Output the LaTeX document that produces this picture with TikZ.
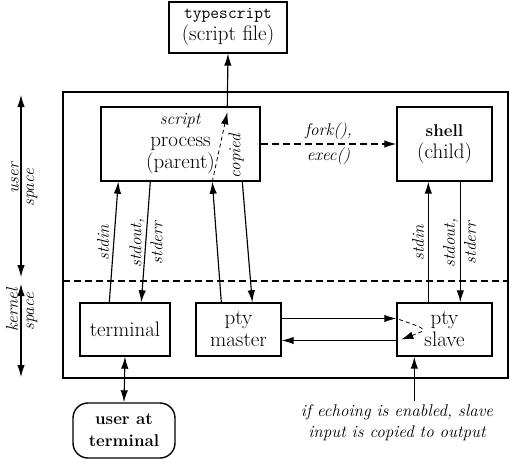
\documentclass[tikz,border=0pt]{standalone}
\usepackage{fontspec}
\usetikzlibrary{arrows.meta}
\newcommand{\smallsz}{\fontsize{17}{22}\selectfont}
\begin{document}
\begin{tikzpicture}[x=1pt,y=-1pt,
    font=\fontsize{17}{21}\selectfont,
    >={Latex[length=12pt,width=7.5pt]},
    line width=1.15pt,
    box/.style={draw, line width=1.4pt, align=center, inner sep=0pt, font=\fontsize{21}{22}\selectfont},
    lbl/.style={rotate=90, font=\fontsize{17}{21}\selectfont\itshape, align=center},
    dashline/.style={dash pattern=on 7pt off 4pt},
    fineline/.style={dash pattern=on 4pt off 3pt, line width=0.8pt}]
    \useasboundingbox (0,0) rectangle (510,460);

    % Caixas
    \node[box, minimum width=118pt, minimum height=51pt] (file) at (228,27.5) {{\smallsz\texttt{typescript}}\\(script file)};
    \node[box, minimum width=159pt, minimum height=74pt] (script) at (180.5,144) {{\smallsz\textit{script}}\\process\\(parent)};
    \node[box, minimum width=95pt, minimum height=74pt] (shell) at (444.5,144) {{\smallsz\textbf{shell}}\\(child)};
    \node[box, minimum width=90pt, minimum height=53pt] (term) at (125,329.5) {terminal};
    \node[box, minimum width=85pt, minimum height=53pt] (master) at (238.5,329.5) {pty\\master};
    \node[box, minimum width=95pt, minimum height=53pt] (slave) at (444.5,329.5) {pty\\slave};
    \node[box, rounded corners=15pt, minimum width=102pt, minimum height=55pt, font=\fontsize{17}{22}\selectfont\bfseries] (user) at (124,430.5) {user at\\terminal};
    \node[font=\fontsize{17}{21}\selectfont\itshape, align=center] (note) at (397,423) {if echoing is enabled, slave\\input is copied to output};

    % Kernel e espaço de usuário
    \draw[line width=2.4pt] (63,92) rectangle (508,378);
    \draw[dashline] (63,281) -- (508,281);
    \draw[<->] (21,95) -- (21,277);
    \draw[<->] (21,284) -- (21,377);
    \node[lbl] (us1) at (15,178) {user};
    \node[lbl] (us2) at (32,188) {space};
    \node[lbl] (ks1) at (12,310) {kernel};
    \node[lbl] (ks2) at (32,312) {space};

    % Fluxos
    \draw[->] ([xshift=30pt]term.north west) -- ([xshift=18pt]script.south west);
    \draw[->] ([xshift=50pt]script.south west) -- ([xshift=62pt]term.north west);
    \draw[->] ([xshift=26pt]master.north west) -- ([xshift=112pt]script.south west);
    \draw[->] ([xshift=142pt]script.south west) -- ([xshift=57pt]master.north west);
    \draw[->] ([xshift=32pt]slave.north west) -- ([xshift=32pt]shell.south west);
    \draw[->] ([xshift=64pt]shell.south west) -- ([xshift=64pt]slave.north west);
    \draw[->, fineline] ([xshift=112pt]script.south west) -- ([xshift=127pt,yshift=-6pt]script.north west);
    \draw[->] ([xshift=127pt]script.north west) -- (file.south);
    \draw[->, dashline] (script.east) -- (shell.west)
        node[midway, above, font=\fontsize{17}{21}\selectfont\itshape] (fork) {fork(),}
        node[midway, below, font=\fontsize{17}{21}\selectfont\itshape] (exec) {exec()};
    \draw[->] ([yshift=11pt]master.east) -- ([yshift=11pt]slave.west);
    \draw[->] ([yshift=-11pt]slave.west) -- ([yshift=-11pt]master.east);
    \draw[->, fineline] ([xshift=3pt,yshift=10pt]slave.west) .. controls ([xshift=32pt,yshift=0pt]slave.west) .. ([xshift=5pt,yshift=-10pt]slave.west);
    \draw[<->] (term.south) -- (user.north);
    \coordinate (echo) at ([xshift=18pt]slave.south west);
    \draw[->] (echo |- note.north) -- (echo);

    % Rótulos
    \node[lbl] (in1) at (103,243) {stdin};
    \node[lbl] (out1) at (146,243) {stdout,\\stderr};
    \node[lbl] (in2) at (418,243) {stdin};
    \node[lbl] (out2) at (459.5,243) {stdout,\\stderr};
    \node[lbl] (copy) at (236,156) {copied};
\end{tikzpicture}
\end{document}
